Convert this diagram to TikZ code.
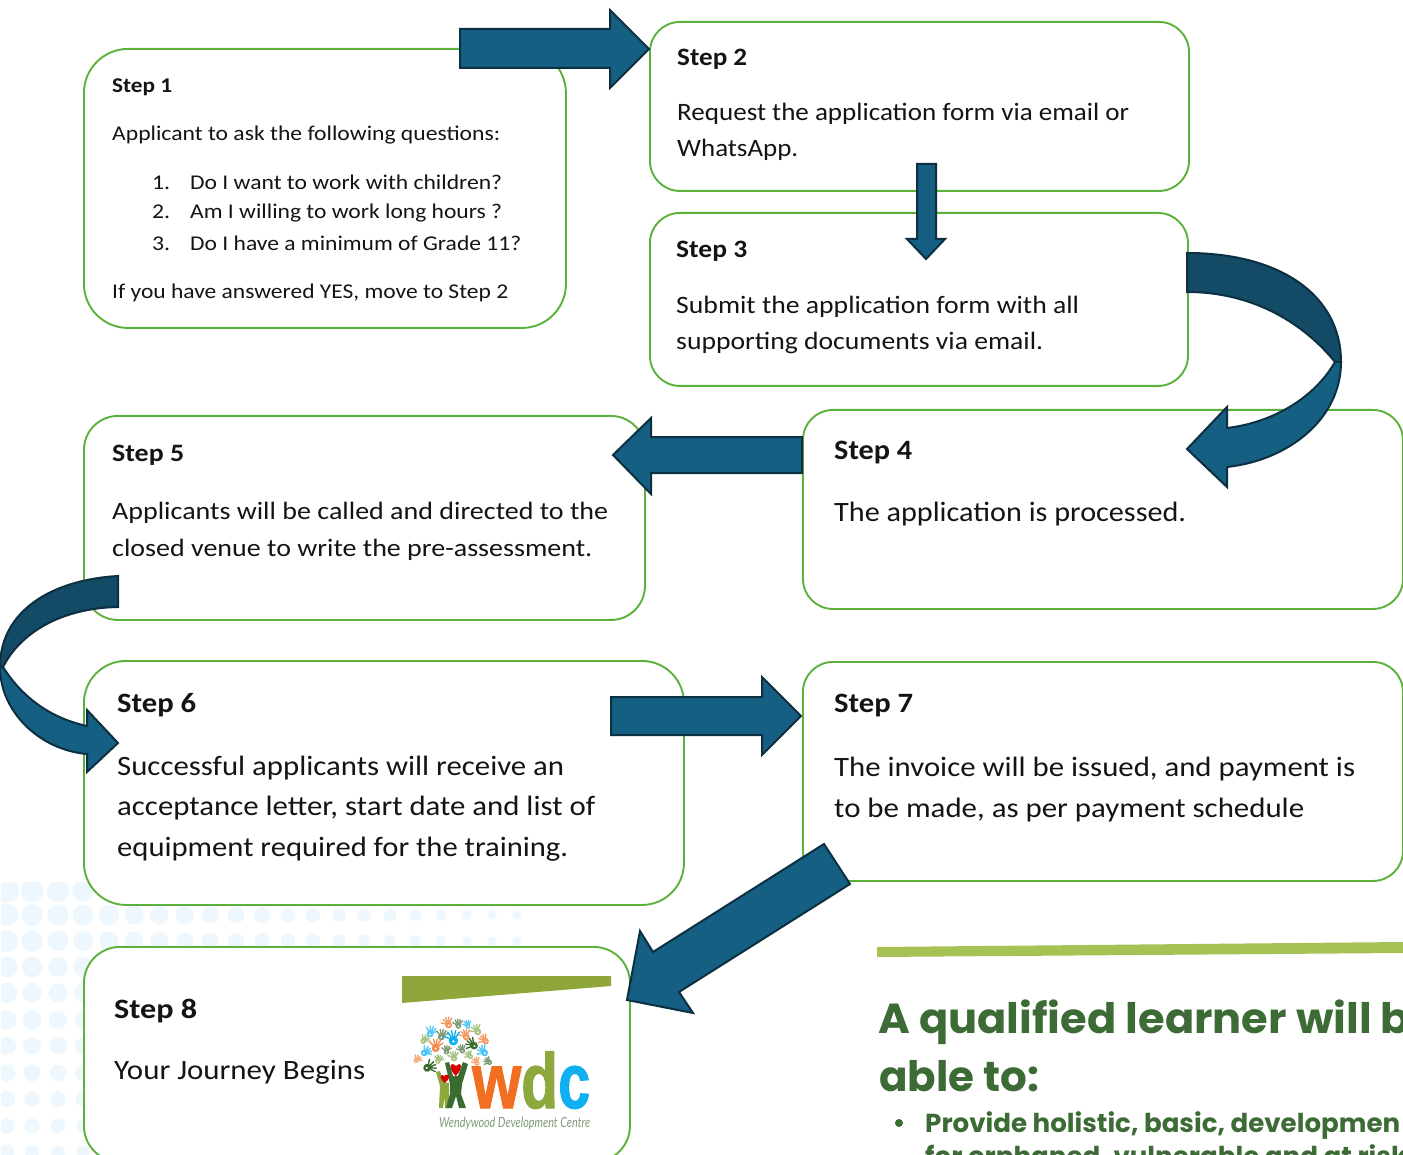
\documentclass[tikz,border=0pt]{standalone}
\usepackage{graphicx}
\usepackage{fontspec}
\setmainfont{Carlito}
\newfontfamily\hdfont{Poppins}
\newfontfamily\capfont{Lato}
\newfontfamily\logofont[BoldFeatures={FakeBold=1.6}]{Liberation Sans}
\definecolor{boxgreen}{HTML}{5CB03C}
\definecolor{arrowlow}{HTML}{156082}
\definecolor{arrowup}{HTML}{134A66}
\definecolor{arrowline}{HTML}{0C2F42}
\definecolor{headgreen}{HTML}{3D6B35}
\definecolor{dotblue}{HTML}{EDF7FD}
\definecolor{barlight}{HTML}{A6C255}
\definecolor{barolive}{HTML}{8EA63A}
\definecolor{wdcorange}{HTML}{F26F21}
\definecolor{wdcgreen}{HTML}{8DA83D}
\definecolor{wdcblue}{HTML}{10B0F0}
\definecolor{wdcdark}{HTML}{3A6B30}
\definecolor{wdcgray}{HTML}{7F9B78}
\definecolor{wdclt}{HTML}{A9C384}
\newbox\fitbx
\newcommand{\fitw}[2]{\setbox\fitbx=\hbox{#2}\pgfmathsetmacro\fitr{#1/\the\wd\fitbx}\scalebox{\fitr}[1]{\box\fitbx}}
\newcommand{\tx}[6]{\node[txt,#5] (#1) at (#2,#3) {\fitw{#4}{#6}};}
\newcommand{\hand}[5]{\begin{scope}[shift={(#1,#2)},rotate=#5,scale=#3*1.2]
\fill[#4] (0,0.8) circle (2.9);
\foreach \a in {-62,-30,-6,18,42}{\draw[#4,line width=1.4pt,line cap=round] (0,0.5) -- ++(\a-90:6.2);}
\fill[white] (0,1.2) circle (0.8);
\end{scope}}
\tikzset{
 stepbox/.style={draw=boxgreen,fill=white,line width=1.9pt,rectangle,anchor=north west,inner sep=0pt},
 txt/.style={anchor=base west,inner sep=0pt,text=black!92},
 blockup/.style={fill=arrowup,draw=arrowline,line width=2pt,line join=miter},
 blocklow/.style={fill=arrowlow,draw=arrowline,line width=2pt,line join=miter},
 bodyA/.style={font=\fontsize{21}{21}\selectfont},
 headA/.style={font=\fontsize{21}{21}\selectfont\bfseries},
 bodyB/.style={font=\fontsize{25}{25}\selectfont},
 headB/.style={font=\fontsize{25}{25}\selectfont\bfseries},
 bodyC/.style={font=\fontsize{28}{28}\selectfont},
 headC/.style={font=\fontsize{28}{28}\selectfont\bfseries},
 logotype/.style={font=\logofont\bfseries\fontsize{78}{78}\selectfont},
 bighead/.style={text=headgreen,font=\hdfont\bfseries\fontsize{42}{42}\selectfont},
 subhead/.style={text=headgreen,font=\hdfont\bfseries\fontsize{26}{26}\selectfont},
}
\begin{document}
\begin{tikzpicture}[x=1pt,y=-1pt]
\useasboundingbox (0,0) rectangle (1403,1155);
\clip (0,0) rectangle (1403,1155);
% background dots
\begin{scope}
\clip (1,882) rectangle (560,1155);
\foreach \yy in {891,915,941,967,993,1020,1046,1073,1099,1126,1152}{
 \foreach \xx in {7,32,58,83,109,134,159,185,210,236,262,288,313,339,364,390,415,441,467,492,517}{
  \pgfmathsetmacro\rr{(11.5-(\yy-891)*0.017)*(1-(\xx-32)*0.0012)}
  \fill[dotblue] (\xx,\yy) circle (\rr);
 }}
\end{scope}
% boxes
\node[stepbox,minimum width=482pt,minimum height=279pt,rounded corners=44pt] (s1) at (83,48) {};
\node[stepbox,minimum width=539pt,minimum height=169pt,rounded corners=30pt] (s2) at (649,21) {};
\node[stepbox,minimum width=538pt,minimum height=173pt,rounded corners=30pt] (s3) at (649,212) {};
\node[stepbox,minimum width=600pt,minimum height=199pt,rounded corners=30pt] (s4) at (802,409) {};
\node[stepbox,minimum width=561pt,minimum height=204pt,rounded corners=34pt] (s5) at (83,415) {};
\node[stepbox,minimum width=600pt,minimum height=244pt,rounded corners=42pt] (s6) at (83,660) {};
\node[stepbox,minimum width=600pt,minimum height=219pt,rounded corners=30pt] (s7) at (802,661) {};
\node[stepbox,minimum width=546pt,minimum height=215pt,rounded corners=36pt] (s8) at (83,946) {};
% Step 1
\tx{t1a}{112}{93}{60}{headA}{Step 1}
\tx{t1b}{112}{141}{388}{bodyA}{Applicant to ask the following questions:}
\tx{t1n1}{152}{190}{18}{bodyA}{1.}
\tx{t1c}{190}{190}{312}{bodyA}{Do I want to work with children?}
\tx{t1n2}{152}{219}{18}{bodyA}{2.}
\tx{t1d}{190}{219}{312}{bodyA}{Am I willing to work long hours ?}
\tx{t1n3}{152}{251}{18}{bodyA}{3.}
\tx{t1e}{190}{251}{331}{bodyA}{Do I have a minimum of Grade 11?}
\tx{t1f}{112}{299}{396}{bodyA}{If you have answered YES, move to Step 2}
% Step 2
\tx{t2a}{677}{66}{70}{headB}{Step 2}
\tx{t2b}{677}{121}{452}{bodyB}{Request the application form via email or}
\tx{t2c}{677}{157}{121}{bodyB}{WhatsApp.}
% Step 3
\tx{t3a}{676}{258}{71}{headB}{Step 3}
\tx{t3b}{676}{314}{403}{bodyB}{Submit the application form with all}
\tx{t3c}{676}{350}{367}{bodyB}{supporting documents via email.}
% Step 4
\tx{t4a}{834}{459}{78}{headC}{Step 4}
\tx{t4b}{834}{521}{352}{bodyC}{The application is processed.}
% Step 5
\tx{t5a}{112}{461}{72}{headB}{Step 5}
\tx{t5b}{112}{519}{496}{bodyB}{Applicants will be called and directed to the}
\tx{t5c}{112}{556}{480}{bodyB}{closed venue to write the pre-assessment.}
% Step 6
\tx{t6a}{117}{712}{79}{headC}{Step 6}
\tx{t6b}{117}{775}{447}{bodyC}{Successful applicants will receive an}
\tx{t6c}{117}{815}{478}{bodyC}{acceptance letter, start date and list of}
\tx{t6d}{117}{856}{451}{bodyC}{equipment required for the training.}
% Step 7
\tx{t7a}{834}{712}{79}{headC}{Step 7}
\tx{t7b}{834}{776}{521}{bodyC}{The invoice will be issued, and payment is}
\tx{t7c}{834}{817}{470}{bodyC}{to be made, as per payment schedule}
% Step 8
\tx{t8a}{114}{1018}{83}{headC}{Step 8}
\tx{t8b}{114}{1079}{251}{bodyC}{Your Journey Begins}
% bars
\fill[barolive] (402,976) -- (611,976) -- (611,986) -- (402,1003) -- cycle;
\fill[barlight] (877,947) -- (1403,942) -- (1403,953) -- (877,957) -- cycle;
% logo hands
\hand{448.3}{1024}{1.0}{wdcorange!70}{15}
\hand{458.3}{1025}{.85}{wdcgray}{0}
\hand{467.7}{1025.5}{.75}{wdcblue!70}{10}
\hand{477.3}{1031}{1.0}{wdclt}{25}
\hand{430.7}{1033}{1.0}{wdcblue!70}{-30}
\hand{441.7}{1036}{1.0}{wdcgray}{-20}
\hand{453.3}{1039.5}{1.35}{wdcblue}{5}
\hand{466}{1036}{1.0}{wdcorange!70}{15}
\hand{473.3}{1045}{1.1}{wdcdark}{50}
\hand{485}{1040.5}{.95}{wdcorange!70}{40}
\hand{424}{1040.5}{.85}{wdclt}{-50}
\hand{436}{1047}{1.15}{wdcorange!80}{-15}
\hand{446.7}{1051}{.8}{wdcgray}{-10}
\hand{462.3}{1050}{.8}{wdcgray}{15}
\hand{425}{1052.5}{.95}{wdcblue!75}{-60}
\hand{484}{1052}{1.0}{wdcblue!75}{40}
\hand{470}{1056}{.75}{wdclt}{35}
\hand{454}{1057.5}{.9}{wdclt}{5}
\hand{438.3}{1060.5}{.8}{wdclt}{-30}
\hand{416.7}{1060}{.75}{wdcorange!60}{-50}
\hand{476.7}{1062.5}{.75}{wdcorange!60}{20}
\hand{489}{1062}{.75}{wdcgray}{50}
\hand{428.3}{1067.5}{1.15}{wdcdark}{-75}
% logo figures
\fill[wdcgreen] (436,1072) -- (440,1071) -- (443,1082) -- (449,1083) -- (449,1108) -- (445,1108) -- (444.5,1097) -- (443,1108) -- (439,1108) -- (440,1086) -- cycle;
\fill[wdcdark] (445,1063) -- (449,1062) -- (453,1076) -- (458,1076) -- (463,1062) -- (468,1064) -- (462,1084) -- (461,1094) -- (466,1108) -- (459,1108) -- (456,1096) -- (452,1108) -- (446,1108) -- (450,1094) -- (450,1084) -- cycle;
\fill[red!85!black] (450.5,1066) .. controls (451,1063) and (455,1064) .. (456,1066) .. controls (457,1064) and (461,1063) .. (461,1066) .. controls (461,1071) and (457,1074) .. (456,1076) .. controls (454,1074) and (450.5,1071) .. cycle;
\fill[red!85!black] (440.5,1077) .. controls (441,1074) and (444,1075) .. (444.5,1076) .. controls (445,1074) and (449,1074) .. (449,1077) .. controls (449,1080) and (445.5,1082) .. (444.5,1083) .. controls (443,1082) and (440.5,1079) .. cycle;
\tx{lw}{472}{1108}{49}{logotype,text=wdcorange}{w}
\tx{ld}{521}{1108}{37}{logotype,text=wdcgreen}{d}
\tx{lc}{558}{1108}{32}{logotype,text=wdcblue}{c}
\tx{lcap}{439}{1127}{151}{text=wdcgray,font=\capfont\itshape\fontsize{14}{14}\selectfont}{Wendywood Development Centre}
% heading
\tx{h1}{878}{1033}{532}{bighead}{A qualified learner will b}
\tx{h2}{879}{1091}{160}{bighead}{able to:}
\fill[headgreen] (899,1123) circle (4);
\tx{h3}{925}{1132}{475}{subhead}{Provide holistic, basic, developmen}
\tx{h4}{925}{1165}{482}{subhead}{for orphaned, vulnerable and at risk}
% block arrows
\draw[blocklow] (460,29) -- (610,29) -- (610,10) -- (649,49) -- (610,88) -- (610,68) -- (460,68) -- cycle;
\draw[blocklow] (917,164) -- (936,164) -- (936,239) -- (945,239) -- (926,259) -- (907,239) -- (917,239) -- cycle;
\draw[blocklow] (1341,362) .. controls (1341,418) and (1290,460) .. (1227,467) -- (1227,487) -- (1187,449) -- (1227,407) -- (1227,428) .. controls (1270,423) and (1313,400) .. (1335,362) -- cycle;
\draw[blockup] (1187,253) .. controls (1280,253) and (1341,295) .. (1341,362) -- (1335,362) .. controls (1305,325) and (1255,292) .. (1187,292) -- cycle;
\draw[blocklow] (802,437) -- (651,437) -- (651,418) -- (613,455) -- (651,494) -- (651,473) -- (802,473) -- cycle;
\draw[blocklow] (0,667) .. controls (0,712) and (40,750) .. (87,754) -- (87,772) -- (118,743) -- (87,710) -- (87,726) .. controls (50,718) and (22,697) .. (3,667) -- cycle;
\draw[blockup] (118,576) .. controls (50,580) and (0,612) .. (0,667) -- (3,667) .. controls (22,630) and (65,608) .. (118,607) -- cycle;
\draw[blocklow] (611,697) -- (762,697) -- (762,677) -- (801,716) -- (762,755) -- (762,735) -- (611,735) -- cycle;
\draw[blocklow] (824,844) -- (850,884) -- (679,992) -- (693,1013) -- (627,1000) -- (640,931) -- (653,952) -- cycle;
\end{tikzpicture}
\end{document}
